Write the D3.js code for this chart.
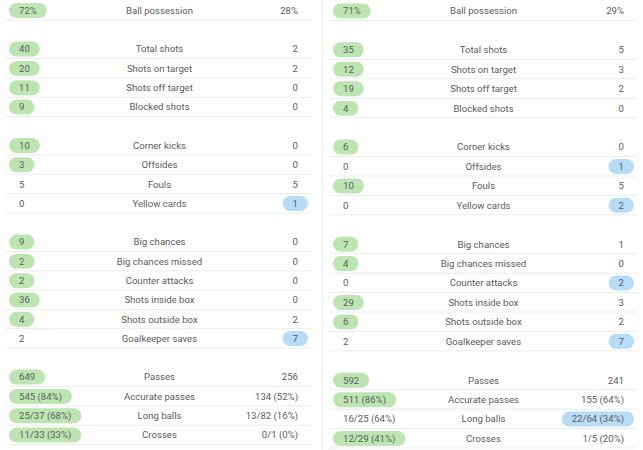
<!DOCTYPE html>
<html><head><meta charset="utf-8">
<script src="https://cdn.jsdelivr.net/npm/d3@7"></script>
<style>
body{margin:0;background:#fff;}
svg text{font-family:Roboto,sans-serif;font-size:9.6px;fill:#5c5c5c;}
</style></head><body>
<svg id="c" width="643" height="450"></svg>
<script>
const statLabels = ["Ball possession","Total shots","Shots on target","Shots off target","Blocked shots",
 "Corner kicks","Offsides","Fouls","Yellow cards",
 "Big chances","Big chances missed","Counter attacks","Shots inside box","Shots outside box","Goalkeeper saves",
 "Passes","Accurate passes","Long balls","Crosses"];
const groupSizes = [1,4,4,6,4];
const match1Home = ["72%","40","20","11","9","10","3","5","0","9","2","2","36","4","2","649","545 (84%)","25/37 (68%)","11/33 (33%)"];
const match1Away = ["28%","2","2","0","0","0","0","5","1","0","0","0","0","2","7","256","134 (52%)","13/82 (16%)","0/1 (0%)"];
const match2Home = ["71%","35","12","19","4","6","0","10","0","7","4","0","29","6","2","592","511 (86%)","16/25 (64%)","12/29 (41%)"];
const match2Away = ["29%","5","3","2","0","0","1","5","2","1","0","2","3","2","7","241","155 (64%)","22/64 (34%)","1/5 (20%)"];

const svg = d3.select("#c");
const slots = [];
{let s=0; groupSizes.forEach(g=>{for(let i=0;i<g;i++) slots.push(s++); s++;});}

const panels = [
  {home:match1Home, away:match1Away, x0:6, x1:312, tl:19, tr:298, y:d3.scaleLinear().domain([0,22]).range([10.5,435])},
  {home:match2Home, away:match2Away, x0:329, x1:637, tl:343, tr:624, y:d3.scaleLinear().domain([0,22]).range([11,438.5])}
];
const lead = s => parseFloat(s);

svg.append("line").attr("x1",322.5).attr("x2",322.5).attr("y1",0).attr("y2",450).attr("stroke","#eeeeee");

panels.forEach(p=>{
  const g = svg.append("g");
  statLabels.forEach((lab,i)=>{
    const cy = p.y(slots[i]);
    g.append("line").attr("x1",p.x0).attr("x2",p.x1).attr("y1",cy+9.5).attr("y2",cy+9.5).attr("stroke","#ececec");
    const h = p.home[i], a = p.away[i];
    const hv = lead(h), av = lead(a);
    const ht = g.append("text").attr("x",p.tl).attr("y",cy).attr("dy","0.35em").text(h);
    const at = g.append("text").attr("x",p.tr).attr("y",cy).attr("dy","0.35em").attr("text-anchor","end").text(a);
    g.append("text").attr("x",(p.x0+p.x1)/2+0.5).attr("y",cy).attr("dy","0.35em").attr("text-anchor","middle").text(lab);
    if(hv>av){
      const w = ht.node().getComputedTextLength();
      g.insert("rect","text").attr("x",p.tl-10).attr("y",cy-7.5).attr("width",w+20).attr("height",15).attr("rx",7.5).attr("fill","#bde5b2");
    } else if(av>hv){
      const w = at.node().getComputedTextLength();
      g.insert("rect","text").attr("x",p.tr-w-10).attr("y",cy-7.5).attr("width",w+20).attr("height",15).attr("rx",7.5).attr("fill","#b6dcf8");
    }
  });
});
</script></body></html>
